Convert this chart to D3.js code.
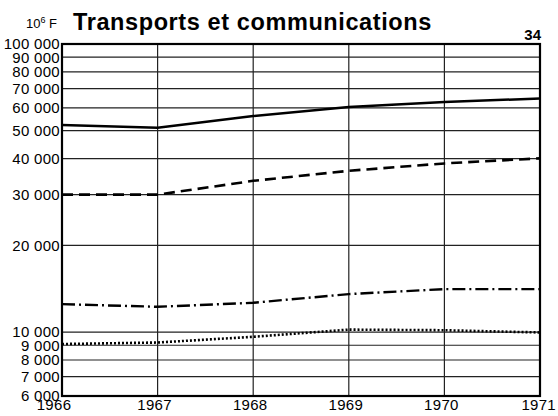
<!DOCTYPE html>
<html>
<head>
<meta charset="utf-8">
<script src="https://cdn.jsdelivr.net/npm/d3@7"></script>
<style>
body { margin: 0; background: #fff; }
svg { display: block; font-family: "Liberation Sans", Arial, sans-serif; }
</style>
</head>
<body>
<svg id="chart"></svg>
<script>
var width = 558, height = 416

var years = [1966, 1967, 1968, 1969, 1970, 1971]
var yTicks = [6000, 7000, 8000, 9000, 10000, 20000, 30000, 40000, 50000, 60000, 70000, 80000, 90000, 100000]
var solidVals = [52300, 51200, 56200, 60400, 62900, 64700]
var dashedVals = [30000, 30000, 33500, 36300, 38500, 40100]
var dashDotVals = [12500, 12240, 12640, 13550, 14100, 14100]
var dottedVals = [9090, 9200, 9630, 10200, 10150, 9970]

var margin = {left: 62, right: 18, top: 44, bottom: 20}

var svg = d3.select("#chart")
    .attr("width", width)
    .attr("height", height)

var x = d3.scaleLinear()
    .domain([1966, 1971])
    .range([margin.left, width - margin.right])
var y = d3.scaleLog()
    .domain([6000, 100000])
    .range([height - margin.bottom, margin.top])

var fmt = function(v) {
    return d3.format(",")(v).replace(",", " ")
}

// grid
svg.append("g")
    .selectAll("line")
    .data(yTicks)
    .enter()
    .append("line")
        .attr("x1", x(1966))
        .attr("x2", x(1971))
        .attr("y1", d => y(d))
        .attr("y2", d => y(d))
        .attr("stroke", "#222")
        .attr("stroke-width", 1.2)
svg.append("g")
    .selectAll("line")
    .data(years.slice(1, 5))
    .enter()
    .append("line")
        .attr("x1", d => x(d))
        .attr("x2", d => x(d))
        .attr("y1", y(100000))
        .attr("y2", y(6000))
        .attr("stroke", "#222")
        .attr("stroke-width", 1.2)

// frame
svg.append("rect")
    .attr("x", x(1966))
    .attr("y", y(100000))
    .attr("width", x(1971) - x(1966))
    .attr("height", y(6000) - y(100000))
    .attr("fill", "none")
    .attr("stroke", "#000")
    .attr("stroke-width", 2.2)

// y labels
svg.append("g")
    .selectAll("text")
    .data(yTicks)
    .enter()
    .append("text")
        .attr("x", x(1966) - 2)
        .attr("y", d => y(d))
        .attr("dy", "0.36em")
        .attr("text-anchor", "end")
        .attr("font-size", 15)
        .attr("letter-spacing", 0.3)
        .text(d => fmt(d))

// x labels
svg.append("g")
    .selectAll("text")
    .data(years)
    .enter()
    .append("text")
        .attr("x", d => x(d))
        .attr("y", 410)
        .attr("text-anchor", d => d == 1971 ? "end" : "middle")
        .attr("dx", d => d == 1971 ? 16 : (d == 1966 ? -8 : -3))
        .attr("font-size", 15)
        .attr("letter-spacing", 0.3)
        .text(d => d)

var line = d3.line()
    .x((d, i) => x(years[i]))
    .y(d => y(d))

var series = [
    {vals: solidVals, dash: null, w: 2.5},
    {vals: dashedVals, dash: "11,6", w: 2.6},
    {vals: dashDotVals, dash: "13,4,2,4", w: 2.4},
    {vals: dottedVals, dash: "2,2", w: 2.6}
]
series.forEach(s => {
    svg.append("path")
        .attr("d", line(s.vals))
        .attr("fill", "none")
        .attr("stroke", "#000")
        .attr("stroke-width", s.w)
        .attr("stroke-dasharray", s.dash)
})

// titles
var unit = svg.append("text")
    .attr("x", 26)
    .attr("y", 28)
    .attr("font-size", 13)
unit.append("tspan").text("10")
unit.append("tspan").attr("dy", -5).attr("font-size", 9).text("6")
unit.append("tspan").attr("dy", 5).text(" F")

svg.append("text")
    .attr("x", 73)
    .attr("y", 30)
    .attr("font-size", 23.5)
    .attr("font-weight", "bold")
    .attr("letter-spacing", 0.6)
    .text("Transports et communications")

svg.append("text")
    .attr("x", 541)
    .attr("y", 40)
    .attr("text-anchor", "end")
    .attr("font-size", 15)
    .attr("font-weight", "bold")
    .text("34")
</script>
</body>
</html>
